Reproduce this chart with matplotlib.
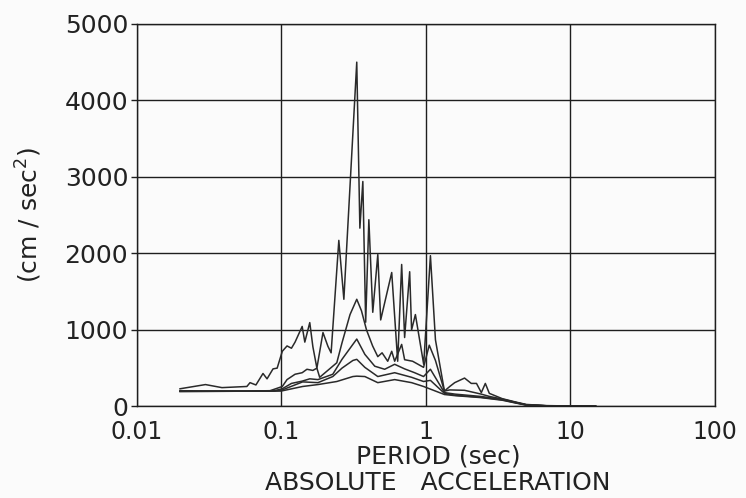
import numpy as np
import matplotlib
matplotlib.use("Agg")
import matplotlib.pyplot as plt

# absolute acceleration response spectra, five damping levels (highest curve = lowest damping)
t_a = [0.020, 0.030, 0.039, 0.058, 0.061, 0.067, 0.075, 0.080, 0.088, 0.094,
       0.102, 0.110, 0.118, 0.125, 0.140, 0.146, 0.158, 0.166, 0.177, 0.195,
       0.211, 0.222, 0.251, 0.272, 0.334, 0.351, 0.368, 0.385, 0.405, 0.431,
       0.467, 0.489, 0.583, 0.641, 0.683, 0.716, 0.776, 0.800, 0.850, 0.970,
       1.08, 1.17, 1.35, 1.47, 1.59, 1.86, 2.07, 2.25, 2.43, 2.59,
       2.76, 3.40, 4.24, 4.98, 6.83, 10.0, 15.0]
sa_a = [230, 285, 245, 260, 310, 280, 430, 360, 490, 500,
        720, 790, 760, 840, 1045, 840, 1095, 780, 500, 965,
        785, 700, 2170, 1400, 4500, 2330, 2940, 1100, 2440, 1230,
        1985, 1130, 1750, 590, 1855, 900, 1760, 1000, 1200, 550,
        1970, 870, 200, 260, 310, 370, 300, 300, 180, 300,
        170, 100, 55, 25, 10, 5, 2]

t_b = [0.020, 0.030, 0.060, 0.084, 0.102, 0.110, 0.125, 0.140, 0.151, 0.166,
       0.177, 0.185, 0.243, 0.264, 0.300, 0.334, 0.360, 0.390, 0.430, 0.467,
       0.500, 0.547, 0.583, 0.611, 0.683, 0.716, 0.813, 0.968, 1.06, 1.17,
       1.35, 1.47, 1.86, 2.43, 2.76, 3.40, 4.24, 4.98, 6.83, 10.0, 15.0]
sa_b = [205, 200, 200, 205, 260, 350, 420, 440, 485, 470,
        500, 380, 570, 830, 1200, 1400, 1250, 1000, 790, 650,
        700, 590, 720, 590, 810, 610, 590, 510, 800, 600,
        200, 215, 210, 160, 130, 95, 50, 20, 8, 4, 2]

t_c = [0.020, 0.060, 0.090, 0.102, 0.118, 0.140, 0.158, 0.180, 0.228, 0.264,
       0.334, 0.380, 0.445, 0.521, 0.611, 0.716, 0.840, 0.968, 1.08, 1.35,
       1.60, 2.40, 3.40, 4.24, 4.98, 6.83, 10.0, 15.0]
sa_c = [200, 200, 205, 230, 300, 330, 360, 350, 420, 615,
        880, 680, 525, 485, 550, 490, 440, 390, 485, 180,
        160, 130, 90, 50, 20, 8, 4, 2]

t_d = [0.020, 0.090, 0.102, 0.141, 0.180, 0.228, 0.264, 0.314, 0.334, 0.380,
       0.467, 0.611, 0.800, 0.968, 1.08, 1.35, 1.60, 2.40, 3.40, 4.24,
       4.98, 6.83, 10.0, 15.0]
sa_d = [195, 200, 215, 320, 310, 390, 500, 600, 615, 510,
        390, 440, 380, 325, 340, 170, 145, 120, 85, 45,
        18, 7, 3, 1]

t_e = [0.020, 0.100, 0.141, 0.180, 0.243, 0.314, 0.334, 0.380, 0.467, 0.611,
       0.800, 0.968, 1.35, 1.60, 2.40, 3.40, 4.24, 4.98, 6.83, 10.0, 15.0]
sa_e = [195, 200, 260, 285, 325, 390, 395, 390, 310, 350,
        310, 260, 155, 140, 115, 80, 42, 16, 6, 3, 1]

x_ticks = [0.01, 0.1, 1, 10, 100]
x_ticklabels = ["0.01", "0.1", "1", "10", "100"]
y_ticks = [0, 1000, 2000, 3000, 4000, 5000]

ink = "#222222"

fig = plt.figure(figsize=(7.46, 4.98), dpi=100)
fig.patch.set_facecolor("#fbfbfb")
ax = fig.add_axes([0.183, 0.184, 0.775, 0.768])
ax.set_facecolor("#fbfbfb")

for t, sa in [(t_a, sa_a), (t_b, sa_b), (t_c, sa_c), (t_d, sa_d), (t_e, sa_e)]:
    ax.plot(t, sa, color="#2a2a2a", lw=1.1)

ax.set_xscale("log")
ax.set_xlim(0.01, 100)
ax.set_ylim(0, 5000)
ax.set_xticks(x_ticks)
ax.set_xticklabels(x_ticklabels)
ax.xaxis.set_minor_locator(matplotlib.ticker.NullLocator())
ax.set_yticks(y_ticks)
ax.grid(True, color="#1e1e1e", lw=1.0)
for s in ax.spines.values():
    s.set_color("#1e1e1e")
    s.set_linewidth(1.0)
ax.tick_params(axis="y", labelsize=18, color="#1e1e1e", labelcolor=ink,
               length=4, width=1.0, pad=2)
ax.tick_params(axis="x", labelsize=17, labelcolor=ink, length=0, pad=10)

ax.set_ylabel("(cm / sec$^2$)", fontsize=18, color=ink)
ax.yaxis.set_label_coords(-0.16, 0.5)
fig.text(0.587, 0.083, "PERIOD (sec)", ha="center", va="center", fontsize=18, color=ink)
fig.text(0.587, 0.031, "ABSOLUTE   ACCELERATION", ha="center", va="center", fontsize=18, color=ink)

fig.savefig("out.png", dpi=100, facecolor=fig.get_facecolor())
